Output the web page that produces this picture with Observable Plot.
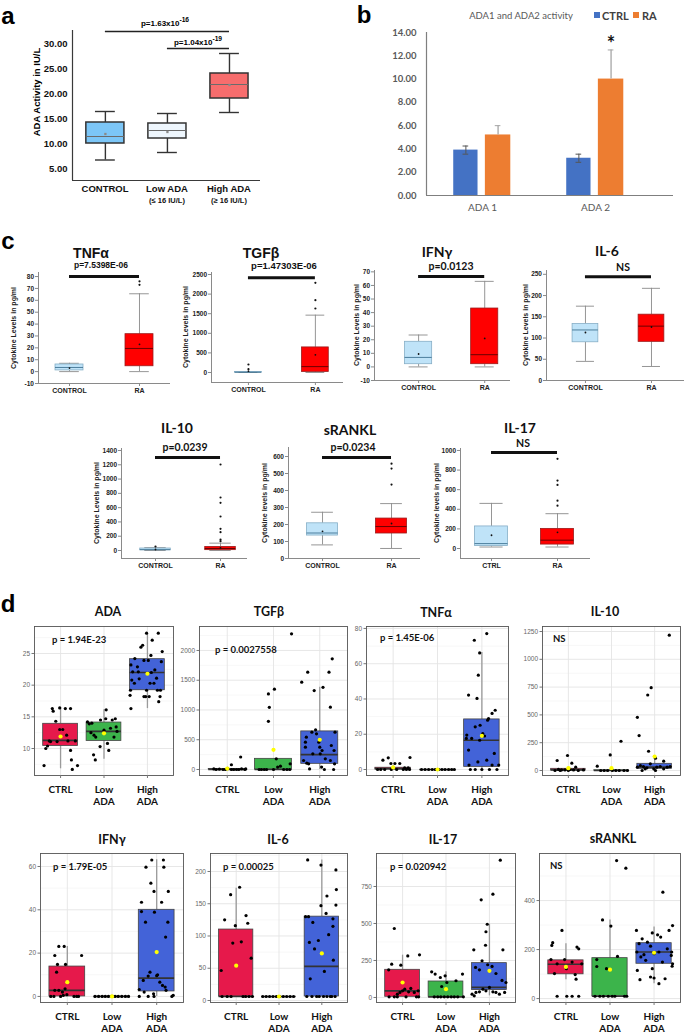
<!DOCTYPE html>
<html><head><meta charset="utf-8">
<script src="https://cdn.jsdelivr.net/npm/d3@7"></script>
<script src="https://cdn.jsdelivr.net/npm/@observablehq/plot@0.6"></script>
<style>
body{margin:0;background:#fff;}
#root{position:relative;width:685px;height:1034px;overflow:hidden;background:#fff;font-family:"Liberation Sans",Arial,sans-serif;}
</style></head><body><div id="root"></div>
<script>
// ================= DATA =================
// Panel a : ADA activity (IU/L)
const aGroups = ["CONTROL", "Low ADA", "High ADA"];
const aSubLabels = ["", "(≤ 16 IU/L)", "(≥ 16 IU/L)"];
const aWhiskLow = [6.7, 8.2, 16.2];
const aQ1 = [10.0, 11.0, 19.0];
const aMedian = [11.4, 12.6, 21.8];
const aQ3 = [14.2, 14.0, 24.0];
const aWhiskHigh = [16.4, 16.0, 28.0];
const aMean = [11.9, 12.3, 21.7];
const aTicks = [5, 10, 15, 20, 25, 30];
const aSigFrom = [1, 2], aSigTo = [3, 3], aSigY = [32.4, 29.0];
const aSigText = ["p=1.63x10<sup>-16</sup>", "p=1.04x10<sup>-19</sup>"];

// Panel b : ADA1 / ADA2 activity
const bGroups = ["ADA 1", "ADA 2"];
const bCTRL = [3.9, 3.2];
const bRA = [5.2, 10.0];
const bCTRLerr = [0.35, 0.35];
const bRAerr = [0.8, 2.5];
const bTicks = [0, 2, 4, 6, 8, 10, 12, 14];

// Panel c : cytokines CONTROL vs RA  [whiskerLow, Q1, median, Q3, whiskerHigh, mean]
const cTNF_ctrl = [0, 1, 3.5, 6, 7, 3], cTNF_ra = [0, 4.5, 19.5, 31.5, 65.5, 23];
const cTNF_out = [[2, 73], [2, 76]];
const cTGF_ctrl = [0, 0, 5, 15, 20, 34], cTGF_ra = [0, 15, 150, 640, 1463, 450];
const cTGF_out = [[1, 85], [1, 204], [2, 1633], [2, 1846], [2, 2287]];
const cIFN_ctrl = [0, 2, 7, 18.5, 23.5, 9.5], cIFN_ra = [0, 2, 9, 43, 63, 21];
const cIFN_out = [];
const cIL6_ctrl = [45, 90, 119, 133, 175, 113], cIL6_ra = [33, 91, 128, 155, 217, 126];
const cIL6_out = [];
const cIL10_ctrl = [0, 3, 12, 28, 40, 14], cIL10_ra = [0, 5, 28, 50, 103, 37];
const cIL10_out = [[1, 56], [2, 131], [2, 154], [2, 257], [2, 303], [2, 476], [2, 667], [2, 742], [2, 1204]];
const cRANKL_ctrl = [80, 135, 150, 207, 272, 160], cRANKL_ra = [59, 147, 188, 235, 323, 206];
const cRANKL_out = [[2, 435], [2, 529], [2, 558]];
const cIL17_ctrl = [15, 25, 50, 225, 460, 135], cIL17_ra = [15, 40, 85, 200, 355, 165];
const cIL17_out = [[2, 437], [2, 488], [2, 648], [2, 693], [2, 915]];

// Panel d : CTRL / Low ADA / High ADA  stats [lo, q1, med, q3, hi, mean]; points [group, jitter, value]
const dGroups = ["CTRL", "Low\nADA", "High\nADA"];
const dADA_stats = [[6.8, 10.4, 11.3, 13.9, 16.5, 11.9], [8.3, 11.2, 12.7, 14.1, 16.1, 12.4], [16.3, 19.2, 22.0, 24.1, 28.1, 21.8]];
const dADA_pts = [
 [1,-0.38,7.3],[1,-0.34,10.0],[1,-0.30,10.4],[1,-0.26,11.2],[1,-0.23,11.1],[1,-0.19,16.3],[1,-0.17,15.9],[1,-0.11,14.3],[1,-0.08,11.1],[1,-0.02,16.4],[1,-0.02,13.0],[1,0.05,13.0],[1,0.11,16.3],[1,0.14,12.1],[1,0.17,11.2],[1,0.23,16.3],[1,0.23,9.7],[1,0.25,8.2],[1,0.27,6.7],[1,0.34,11.2],[1,0.39,7.3],
 [2,-0.38,14.2],[2,-0.34,13.9],[2,-0.3,12.5],[2,-0.28,14.0],[2,-0.24,9.0],[2,-0.23,12.1],[2,-0.2,8.2],[2,-0.19,11.8],[2,-0.09,10.3],[2,-0.08,14.5],[2,0,12.9],[2,0.04,14.7],[2,0.05,16.1],[2,0.08,10.8],[2,0.11,9.7],[2,0.15,13.2],[2,0.19,14.5],[2,0.23,11.8],[2,0.26,14.7],[2,0.28,13.4],[2,0.3,12.7],
 [3,-0.38,16.3],[3,-0.4,18.4],[3,-0.39,19.2],[3,-0.36,20.8],[3,-0.38,23.2],[3,-0.34,22.1],[3,-0.3,20.3],[3,-0.29,24.2],[3,-0.23,22.9],[3,-0.21,22.1],[3,-0.19,21.0],[3,-0.15,26.0],[3,-0.11,26.3],[3,-0.08,23.9],[3,-0.08,18.2],[3,-0.04,18.2],[3,-0.02,28.2],[3,-0.02,19.2],[3,0.02,23.9],[3,0.04,18.2],[3,0.06,20.3],[3,0.08,24.7],[3,0.09,22.0],[3,0.11,27.1],[3,0.15,20.3],[3,0.17,22.4],[3,0.21,21.1],[3,0.23,19.2],[3,0.25,28.2],[3,0.26,17.4],[3,0.29,18.2],[3,0.3,19.2],[3,0.32,23.7],[3,0.34,25.3]];
const dTGF_stats = [[0, 0, 0, 10, 20, 15], [0, 0, 0, 179, 180, 330], [0, 95, 250, 640, 1380, 500]];
const dTGF_pts = [
 [1,-0.29,10],[1,-0.24,0],[1,-0.17,5],[1,-0.09,0],[1,-0.04,0],[1,0.01,20],[1,0.09,0],[1,0.14,0],[1,0.2,0],[1,0.25,0],[1,0.31,10],[1,0.38,0],[1,0.4,10],[1,0.09,80],[1,0.29,210],
 [2,-0.31,0],[2,-0.26,0],[2,-0.2,0],[2,-0.15,0],[2,-0.11,1270],[2,-0.09,1045],[2,-0.11,810],[2,0.02,1350],[2,0.06,180],[2,0,0],[2,0.09,40],[2,0.15,55],[2,0.22,0],[2,0.29,0],[2,0.35,0],[2,0.36,95],[2,0.39,2280],
 [3,-0.39,1467],[3,-0.26,1635],[3,-0.31,459],[3,-0.31,375],[3,-0.29,543],[3,-0.28,106],[3,-0.35,151],[3,-0.24,95],[3,-0.22,10],[3,-0.17,627],[3,-0.15,263],[3,-0.12,1327],[3,-0.09,666],[3,-0.07,599],[3,-0.02,459],[3,0,375],[3,0.01,263],[3,0.04,40],[3,0.05,319],[3,0.07,1380],[3,0.1,0],[3,0.12,179],[3,0.2,1635],[3,0.23,1047],[3,0.25,403],[3,0.27,1859],[3,0.31,319],[3,0.32,95],[3,0.3,0],[3,0.33,627],[3,0.23,151]];
const dTNF_stats = [[0, 0, 0.5, 1, 2, 1.2], [0, 0, 0, 0, 0, 0], [0, 1.5, 16.6, 28.4, 66.3, 19.1]];
const dTNF_pts = [
 [1,-0.23,5.3],[1,-0.11,6.6],[1,-0.05,3.4],[1,0.04,3.4],[1,0.15,3.4],[1,0.38,6.8],[1,-0.35,0],[1,-0.28,0],[1,-0.19,0],[1,-0.04,0],[1,0.08,0],[1,0.23,0],[1,0.3,0],[1,0.34,1],[1,0.26,1],[1,0.37,0],
 [2,-0.36,0],[2,-0.28,0],[2,-0.2,0],[2,-0.12,0],[2,-0.05,0],[2,0.03,0],[2,0.1,0],[2,0.17,0],[2,0.25,0],[2,0.32,0],[2,0.38,0],
 [3,-0.3,42.2],[3,-0.17,73.3],[3,-0.05,66.1],[3,-0.08,53.5],[3,-0.11,40.3],[3,0.11,77.1],[3,-0.35,17.6],[3,-0.34,19.5],[3,-0.23,17.6],[3,-0.15,24.2],[3,-0.04,25.1],[3,-0.05,16.6],[3,0.02,20.4],[3,0.06,19.0],[3,0.23,31.8],[3,0.3,33.6],[3,0.15,28.9],[3,0.13,28.0],[3,-0.3,11.0],[3,-0.29,2.5],[3,-0.09,4.3],[3,0.11,5.3],[3,0.28,9.1],[3,0.23,2.5],[3,0.38,2.5],[3,-0.26,0],[3,-0.15,0],[3,0,0],[3,0.17,0],[3,0.34,0]];
const dIL10_stats = [[0, 0, 5, 15, 30, 21], [0, 0, 0, 2, 5, 21], [0, 15, 30, 60, 110, 126]];
const dIL10_pts = [
 [1,-0.26,90],[1,-0.02,135],[1,0.08,66],[1,0.17,30],[1,-0.23,10],[1,-0.16,5],[1,-0.08,5],[1,0,0],[1,0.12,5],[1,0.23,0],[1,0.35,5],[1,-0.31,0],[1,-0.19,0],[1,0.04,10],
 [2,-0.33,39],[2,-0.03,140],[2,0.22,263],[2,-0.25,0],[2,-0.17,0],[2,-0.09,0],[2,0.02,0],[2,0.1,0],[2,0.18,0],[2,0.29,0],[2,0.37,0],
 [3,-0.4,478],[3,-0.36,314],[3,-0.16,679],[3,-0.08,745],[3,-0.14,173],[3,0.02,111],[3,0.21,84],[3,0.34,1217],[3,-0.4,30],[3,-0.33,45],[3,-0.26,36],[3,-0.18,24],[3,-0.1,60],[3,-0.02,15],[3,0.05,30],[3,0.13,36],[3,0.21,15],[3,0.29,30],[3,0.36,36],[3,-0.29,0],[3,-0.22,15],[3,0.02,0]];
const dIFN_stats = [[0, 0, 2.8, 13.8, 23.1, 6.6], [0, 0, 0, 0, 0, 0], [0, 2.3, 8.5, 40, 63.1, 20.5]];
const dIFN_pts = [
 [1,-0.28,18.9],[1,-0.22,14.8],[1,-0.24,11.2],[1,-0.19,23.1],[1,-0.07,23.1],[1,-0.04,14.8],[1,0.32,18.9],[1,-0.28,2.8],[1,-0.19,2.8],[1,-0.11,2],[1,-0.09,0.5],[1,-0.05,3.5],[1,-0.01,0.8],[1,0.15,0],[1,0.21,0],[1,-0.15,0],[1,-0.3,0],[1,-0.37,0],[1,0.25,0],
 [2,-0.38,0],[2,-0.3,0],[2,-0.22,0],[2,-0.15,0],[2,-0.08,0],[2,0,0],[2,0.07,0],[2,0.14,0],[2,0.22,0],[2,0.3,0],[2,0.37,0],
 [3,-0.34,43.5],[3,-0.34,39.2],[3,-0.24,59.7],[3,-0.13,52.3],[3,-0.11,63],[3,-0.06,48.5],[3,-0.05,38.9],[3,0.11,43.5],[3,0.15,63],[3,0.16,59.7],[3,0.26,48.5],[3,0.25,34.3],[3,0.2,27.4],[3,-0.25,34.3],[3,-0.15,11.2],[3,-0.19,9.4],[3,0.02,10],[3,0,9.6],[3,-0.3,7.4],[3,-0.39,3.2],[3,-0.39,0],[3,-0.28,2],[3,-0.19,0],[3,-0.07,1.2],[3,-0.06,0],[3,0.07,6.6],[3,0.13,5.1],[3,0.19,4.3],[3,0.21,2.8],[3,0.34,0],[3,0.37,0.5]];
const dIL6_stats = [[6.2, 6.2, 6.2, 110, 174, 54], [6.2, 6.2, 6.2, 6.2, 6.2, 6.2], [6.2, 6.2, 53, 130, 218, 73]];
const dIL6_pts = [
 [1,-0.35,46.5],[1,-0.27,125],[1,-0.13,164],[1,-0.08,89],[1,-0.02,116],[1,0.08,175.6],[1,0.12,91],[1,0.23,131.7],[1,0.27,119.8],[1,0.35,65.6],[1,-0.33,6.2],[1,-0.21,6.2],[1,-0.12,6.2],[1,0.16,6.2],[1,0.22,6.2],[1,0.3,6.2],[1,0.38,6.2],
 [2,-0.38,6.2],[2,-0.3,6.2],[2,-0.22,6.2],[2,-0.14,6.2],[2,-0.06,6.2],[2,0.02,6.2],[2,0.1,6.2],[2,0.18,6.2],[2,0.26,6.2],[2,0.34,6.2],
 [3,-0.33,218],[3,-0.02,210],[3,0.12,162],[3,-0.02,147],[3,0.1,135],[3,-0.38,130],[3,-0.31,130],[3,-0.21,121],[3,0.26,126.6],[3,0.34,172],[3,0.33,148],[3,0.26,115],[3,0.16,102],[3,0.33,202.5],[3,-0.29,90],[3,-0.17,80],[3,-0.08,93],[3,0.06,45],[3,0.27,62.5],[3,-0.27,33.6],[3,-0.35,6.2],[3,-0.23,6.2],[3,-0.12,6.2],[3,-0.06,6.2],[3,0.04,6.2],[3,0.12,6.2],[3,0.2,6.2],[3,0.23,6.2],[3,0.31,6.2]];
const dIL17_stats = [[4.5, 4.5, 45, 187, 286, 101], [4.5, 4.5, 4.5, 108, 173, 56], [11, 50, 68, 232, 495, 180]];
const dIL17_pts = [
 [1,-0.19,466],[1,-0.25,225],[1,-0.04,218],[1,0.12,281],[1,0.39,288],[1,-0.32,187],[1,-0.31,4.5],[1,-0.19,4.5],[1,-0.12,22],[1,-0.06,34],[1,0,45],[1,0.05,56],[1,0.14,38],[1,0.19,61],[1,0.27,34],[1,0.32,4.5],[1,0.37,4.5],[1,0.36,45],[1,-0.12,4.5],[1,0.08,4.5],
 [2,-0.33,173],[2,-0.25,158],[2,-0.13,135],[2,-0.02,146],[2,-0.1,74],[2,0.02,101],[2,0.23,113],[2,0.38,158],[2,-0.27,4.5],[2,-0.19,4.5],[2,-0.12,4.5],[2,-0.04,4.5],[2,0.04,4.5],[2,0.12,4.5],[2,0.19,4.5],[2,0.27,4.5],[2,0.4,4.5],
 [3,0.25,928],[3,0.08,698],[3,-0.19,660],[3,-0.08,444],[3,-0.05,495],[3,-0.09,353],[3,-0.36,322],[3,0.31,322],[3,-0.17,248],[3,-0.04,221],[3,0.06,210],[3,-0.32,203],[3,-0.23,187],[3,0.15,162],[3,0.29,115],[3,0.38,101],[3,-0.4,22],[3,-0.31,34],[3,-0.23,38],[3,-0.15,56],[3,-0.08,45],[3,0,68],[3,0.08,38],[3,0.15,34],[3,0.23,22],[3,0.35,34],[3,-0.35,11]];
const dRANKL_stats = [[77, 99, 140, 156, 224, 129], [9.5, 9.5, 9.5, 165, 321, 118], [61, 142, 190, 226, 292, 187]];
const dRANKL_pts = [
 [1,-0.34,159],[1,-0.32,217],[1,-0.3,228],[1,-0.09,278],[1,-0.2,142],[1,-0.03,159],[1,0.01,122],[1,0.14,149],[1,0.21,98],[1,0.25,210],[1,0.29,203],[1,0.23,79],[1,-0.2,9.5],[1,0.02,9.5],[1,0.14,9.5],[1,0.29,9.5],[1,-0.26,102],[1,0.36,142],
 [2,-0.17,321],[2,0.02,296],[2,0.15,563],[2,0.36,532],[2,0.17,172],[2,-0.3,159],[2,-0.3,131],[2,-0.08,122],[2,-0.34,9.5],[2,-0.23,9.5],[2,-0.15,9.5],[2,-0.04,9.5],[2,0.05,9.5],[2,0.11,9.5],[2,0.33,9.5],[2,0.38,9.5],
 [3,0.2,434],[3,-0.4,278],[3,0.42,298],[3,0.34,278],[3,-0.04,268],[3,0.08,260],[3,0.15,251],[3,-0.27,244],[3,-0.15,230],[3,-0.34,224],[3,-0.08,214],[3,0.3,203],[3,0.4,190],[3,-0.39,190],[3,-0.3,170],[3,-0.23,179],[3,-0.19,156],[3,0,183],[3,0.11,190],[3,0.19,149],[3,0.42,142],[3,0.41,132],[3,-0.38,115],[3,-0.04,122],[3,-0.08,88],[3,0,84],[3,0.11,61],[3,0.25,81],[3,-0.32,77],[3,0.39,176]];

// ================= STYLE =================
const ARIAL = '"Liberation Sans", Arial, sans-serif';
const CALI = 'Lato, "Open Sans", sans-serif';
const aFills = ["#7cc6f7", "#eef6fd", "#f76d6d"];
const dFills = ["#e6194b", "#3cb44b", "#4363d8"];
const plain = d => String(d);

const root = document.getElementById("root");
function addSvg(svg, left, top) {
  svg.style.position = "absolute"; svg.style.left = left + "px"; svg.style.top = top + "px";
  svg.style.overflow = "visible"; root.appendChild(svg);
}
function txt(html, x, y, css = {}, align = "center", rotate = 0) {
  const d = document.createElement("div");
  d.innerHTML = html;
  Object.assign(d.style, {position: "absolute", left: x + "px", top: y + "px", whiteSpace: "nowrap", lineHeight: "1.15"});
  const tx = align === "center" ? "-50%" : align === "left" ? "0" : "-100%";
  d.style.transform = `translate(${tx},-50%)` + (rotate ? ` rotate(${rotate}deg)` : "");
  Object.assign(d.style, css);
  root.appendChild(d);
}

// ================= PANEL A =================
{
  const rows = aGroups.map((g, k) => ({i: k + 1, lo: aWhiskLow[k], q1: aQ1[k], med: aMedian[k], q3: aQ3[k], hi: aWhiskHigh[k], mean: aMean[k], fill: aFills[k]}));
  const sig = aSigY.map((y, k) => ({y, from: aSigFrom[k], to: aSigTo[k]}));
  const hb = 0.307, hc = 0.16;
  const svg = Plot.plot({
    width: 340, height: 210, marginLeft: 72, marginRight: 80, marginTop: 30, marginBottom: 30,
    x: {domain: [0.47, 3.5], axis: null}, y: {domain: [2.6, 32.6], label: null},
    color: {type: "identity"},
    style: {fontFamily: ARIAL, fontSize: "9.5px", fontWeight: "bold", color: "#111", background: "none", overflow: "visible"},
    marks: [
      Plot.ruleX(rows, {x: "i", y1: "lo", y2: "q1", stroke: "#333", strokeWidth: 1.4}),
      Plot.ruleX(rows, {x: "i", y1: "q3", y2: "hi", stroke: "#333", strokeWidth: 1.4}),
      Plot.ruleY(rows, {y: "lo", x1: d => d.i - hc, x2: d => d.i + hc, stroke: "#333", strokeWidth: 1.4}),
      Plot.ruleY(rows, {y: "hi", x1: d => d.i - hc, x2: d => d.i + hc, stroke: "#333", strokeWidth: 1.4}),
      Plot.rect(rows, {x1: d => d.i - hb, x2: d => d.i + hb, y1: "q1", y2: "q3", fill: "fill", stroke: "#333", strokeWidth: 1.5}),
      Plot.ruleY(rows, {y: "med", x1: d => d.i - hb, x2: d => d.i + hb, stroke: "#6b6b6b", strokeWidth: 1}),
      Plot.dot(rows, {x: "i", y: "mean", r: 1.3, fill: "#8a8a8a", symbol: "square"}),
      Plot.ruleX([0.47], {stroke: "#3a3a3a", strokeWidth: 1.2}),
      Plot.ruleY([2.6], {stroke: "#3a3a3a", strokeWidth: 1.2}),
      Plot.ruleY(sig, {y: "y", x1: "from", x2: "to", stroke: "#222", strokeWidth: 1.6}),
      Plot.axisY(aTicks, {tickSize: 0, tickPadding: 5, tickFormat: d => d.toFixed(2), label: null})
    ]
  });
  addSvg(svg, 0, 0);
  txt("a", 8, 16, {fontFamily: ARIAL, fontWeight: "bold", fontSize: "24px"});
  txt("ADA Activity in IU/L", 37, 92, {fontFamily: ARIAL, fontWeight: "bold", fontSize: "9.5px"}, "center", -90);
  const xs = [105, 167, 229];
  aGroups.forEach((g, k) => {
    txt(g, xs[k], 189, {fontFamily: ARIAL, fontWeight: "bold", fontSize: "9.5px", color: "#111"});
    if (aSubLabels[k]) txt(aSubLabels[k], xs[k], 201, {fontFamily: ARIAL, fontWeight: "bold", fontSize: "7.5px", color: "#111"});
  });
  txt(aSigText[0], 165, 22, {fontFamily: ARIAL, fontWeight: "bold", fontSize: "8px"});
  txt(aSigText[1], 198, 41, {fontFamily: ARIAL, fontWeight: "bold", fontSize: "8px"});
}

// ================= PANEL B =================
{
  const rows = bGroups.map((g, k) => ({i: k + 1, ctrl: bCTRL[k], ra: bRA[k], ce: bCTRLerr[k], re: bRAerr[k]}));
  const cx = -0.1475, rx = 0.1375, cap = 0.025;
  const svg = Plot.plot({
    width: 345, height: 215, marginLeft: 86, marginRight: 12, marginTop: 32, marginBottom: 20,
    x: {domain: [0.504, 2.69], label: null}, y: {domain: [0, 14], label: null},
    style: {fontFamily: CALI, fontSize: "9.5px", fontWeight: "bold", color: "#595959", background: "none", overflow: "visible"},
    marks: [
      Plot.rect(rows, {x1: d => d.i - 0.255, x2: d => d.i - 0.04, y1: () => 0, y2: "ctrl", fill: "#4472c4"}),
      Plot.rect(rows, {x1: d => d.i + 0.025, x2: d => d.i + 0.25, y1: () => 0, y2: "ra", fill: "#ed7d31"}),
      Plot.ruleX(rows, {x: d => d.i + cx, y1: d => d.ctrl - d.ce, y2: d => d.ctrl + d.ce, stroke: "#555", strokeWidth: 1}),
      Plot.ruleY(rows, {y: d => d.ctrl - d.ce, x1: d => d.i + cx - cap, x2: d => d.i + cx + cap, stroke: "#555"}),
      Plot.ruleY(rows, {y: d => d.ctrl + d.ce, x1: d => d.i + cx - cap, x2: d => d.i + cx + cap, stroke: "#555"}),
      Plot.ruleX(rows, {x: d => d.i + rx, y1: "ra", y2: d => d.ra + d.re, stroke: "#a6a6a6", strokeWidth: 1.3}),
      Plot.ruleY(rows, {y: d => d.ra + d.re, x1: d => d.i + rx - cap, x2: d => d.i + rx + cap, stroke: "#a6a6a6"}),
      Plot.ruleX([0.504], {stroke: "#7f7f7f", strokeWidth: 1.2}),
      Plot.ruleY([0], {stroke: "#7f7f7f", strokeWidth: 1.2}),
      Plot.text([{x: 2 + rx, y: 13.3}], {x: "x", y: "y", text: () => "*", fontSize: 20, fontWeight: "bold", fill: "#111", dy: 4}),
      Plot.axisY(bTicks, {tickSize: 0, tickPadding: 10, tickFormat: d => d.toFixed(2), label: null}),
      Plot.axisX([1, 2], {tickSize: 0, tickPadding: 8, tickFormat: i => bGroups[i - 1], label: null, fontWeight: "normal", fontSize: 10})
    ]
  });
  addSvg(svg, 340, 0);
  txt("b", 364, 15, {fontFamily: ARIAL, fontWeight: "bold", fontSize: "24px"});
  txt("ADA1 and ADA2 activity", 521, 16, {fontFamily: CALI, fontSize: "9.5px", color: "#595959"});
  const sq = (x, c) => { const d = document.createElement("div"); Object.assign(d.style, {position: "absolute", left: x + "px", top: "12px", width: "6px", height: "6px", background: c}); root.appendChild(d); };
  sq(594, "#4472c4"); sq(633, "#ed7d31");
  txt("CTRL", 602, 16, {fontFamily: CALI, fontWeight: "bold", fontSize: "11px", color: "#404040"}, "left");
  txt("RA", 642, 16, {fontFamily: CALI, fontWeight: "bold", fontSize: "11px", color: "#404040"}, "left");
}

// ================= PANEL C =================
function makeC(o) {
  const left = o.ax - 30, top = o.yt - 3;
  const W = o.xr - left + 2, H = o.yb - top + 14;
  const boxes = [
    {i: 1, s: o.ctrl, fill: "#bfe3f8", stroke: "#86aec6", med: "#3f7392"},
    {i: 2, s: o.ra, fill: "#ff0000", stroke: "#9b1b1b", med: "#5a0000"}];
  const hb = o.bw / 2, hc = o.bw * 0.35;
  const svg = Plot.plot({
    width: W, height: H, marginLeft: 30, marginRight: 2, marginTop: 3, marginBottom: 14,
    x: {domain: o.xdom, label: null}, y: {domain: o.ydom, label: null},
    color: {type: "identity"},
    style: {fontFamily: ARIAL, fontSize: "6.5px", fontWeight: "bold", color: "#222", background: "none", overflow: "visible"},
    marks: [
      Plot.ruleX(boxes, {x: "i", y1: d => d.s[0], y2: d => d.s[1], stroke: "#8a8a8a", strokeWidth: 0.9}),
      Plot.ruleX(boxes, {x: "i", y1: d => d.s[3], y2: d => d.s[4], stroke: "#8a8a8a", strokeWidth: 0.9}),
      Plot.ruleY(boxes, {y: d => d.s[0], x1: d => d.i - hc, x2: d => d.i + hc, stroke: "#8a8a8a", strokeWidth: 0.9}),
      Plot.ruleY(boxes, {y: d => d.s[4], x1: d => d.i - hc, x2: d => d.i + hc, stroke: "#8a8a8a", strokeWidth: 0.9}),
      Plot.rect(boxes, {x1: d => d.i - hb, x2: d => d.i + hb, y1: d => d.s[1], y2: d => d.s[3], fill: "fill", stroke: "stroke", strokeWidth: 0.8}),
      Plot.ruleY(boxes, {y: d => d.s[2], x1: d => d.i - hb, x2: d => d.i + hb, stroke: "med", strokeWidth: 0.9}),
      Plot.dot(boxes, {x: "i", y: d => d.s[5], r: 0.9, fill: "#111"}),
      Plot.dot(o.out, {x: d => d[0], y: d => d[1], r: 1.1, fill: "#111"}),
      Plot.ruleX([o.xdom[0]], {stroke: "#8a8a8a", strokeWidth: 1}),
      Plot.ruleY([o.ydom[0]], {stroke: "#8a8a8a", strokeWidth: 1}),
      Plot.ruleY([o.sig], {y: d => d, x1: () => 1, x2: () => 2, stroke: "#111", strokeWidth: 3}),
      Plot.axisY(o.ticks, {tickSize: 3, tickPadding: 1.5, tickFormat: plain, label: null, stroke: "#8a8a8a"}),
      Plot.axisX([1, 2], {tickSize: 3, tickPadding: 1.5, tickFormat: i => o.xl[i - 1], label: null, stroke: "#8a8a8a", fontSize: 7})
    ]
  });
  addSvg(svg, left, top);
  txt(o.title, o.tx, o.ty, {fontFamily: o.tfont, fontWeight: "bold", fontSize: o.tsize + "px", color: "#111"});
  txt(o.p, o.px, o.py, {fontFamily: o.tfont, fontWeight: "bold", fontSize: o.psize + "px", color: "#111"});
  txt(o.ylab, o.lx, (o.yt + o.yb) / 2, {fontFamily: ARIAL, fontWeight: "bold", fontSize: "7px", color: "#222"}, "center", -90);
}
txt("c", 8, 241, {fontFamily: ARIAL, fontWeight: "bold", fontSize: "24px"});
const CL = ["CONTROL", "RA"];
makeC({ax: 38, xr: 170, yt: 272, yb: 383, ydom: [-10, 83.4], xdom: [0.557, 2.443], ticks: d3.range(-10, 81, 10), bw: 0.4, sig: 80, xl: CL,
  ctrl: cTNF_ctrl, ra: cTNF_ra, out: cTNF_out, title: "TNFα", tx: 91, ty: 253, tfont: ARIAL, tsize: 14, p: "p=7.5398E-06", px: 101, py: 266, psize: 8.5, ylab: "Cytokine Levels in pg/ml", lx: 14});
makeC({ax: 211, xr: 343, yt: 272, yb: 382, ydom: [-255, 2551], xdom: [0.448, 2.42], ticks: d3.range(0, 2501, 500), bw: 0.4, sig: 2420, xl: CL,
  ctrl: cTGF_ctrl, ra: cTGF_ra, out: cTGF_out, title: "TGFβ", tx: 261, ty: 253, tfont: ARIAL, tsize: 14, p: "p=1.47303E-06", px: 284, py: 266, psize: 9.5, ylab: "Cytokine Levels in pg/ml", lx: 186});
makeC({ax: 374, xr: 510, yt: 270, yb: 380, ydom: [-10, 71], xdom: [0.333, 2.39], ticks: d3.range(-10, 71, 10), bw: 0.41, sig: 66.6, xl: CL,
  ctrl: cIFN_ctrl, ra: cIFN_ra, out: cIFN_out, title: "IFNγ", tx: 437, ty: 252, tfont: CALI, tsize: 14, p: "p=0.0123", px: 451, py: 266, psize: 10.5, ylab: "Cytokine Levels in pg/ml", lx: 357});
makeC({ax: 546, xr: 684, yt: 270, yb: 380, ydom: [0, 259], xdom: [0.41, 2.5], ticks: d3.range(0, 251, 50), bw: 0.39, sig: 244, xl: CL,
  ctrl: cIL6_ctrl, ra: cIL6_ra, out: cIL6_out, title: "IL-6", tx: 607, ty: 251, tfont: CALI, tsize: 14, p: "NS", px: 623, py: 267, psize: 10.5, ylab: "Cytokine Levels in pg/ml", lx: 526});
makeC({ax: 121, xr: 247, yt: 448, yb: 558, ydom: [-112, 1428], xdom: [0.477, 2.415], ticks: d3.range(0, 1401, 200), bw: 0.47, sig: 1302, xl: CL,
  ctrl: cIL10_ctrl, ra: cIL10_ra, out: cIL10_out, title: "IL-10", tx: 177, ty: 428, tfont: CALI, tsize: 14, p: "p=0.0239", px: 185, py: 447, psize: 10.5, ylab: "Cytokine Levels in pg/ml", lx: 97});
makeC({ax: 288, xr: 420, yt: 447, yb: 558, ydom: [0, 653], xdom: [0.507, 2.42], ticks: d3.range(0, 601, 100), bw: 0.45, sig: 594, xl: CL,
  ctrl: cRANKL_ctrl, ra: cRANKL_ra, out: cRANKL_out, title: "sRANKL", tx: 350, ty: 430, tfont: CALI, tsize: 14, p: "p=0.0234", px: 353, py: 447, psize: 10.5, ylab: "Cytokine levels in pg/ml", lx: 265});
makeC({ax: 460, xr: 590, yt: 448, yb: 558, ydom: [-102, 1020], xdom: [0.53, 2.5], ticks: d3.range(0, 1001, 200), bw: 0.5, sig: 980, xl: ["CTRL", "RA"],
  ctrl: cIL17_ctrl, ra: cIL17_ra, out: cIL17_out, title: "IL-17", tx: 520, ty: 428, tfont: CALI, tsize: 14, p: "NS", px: 523, py: 443, psize: 10.5, ylab: "Cytokine levels in pg/ml", lx: 437});

// ================= PANEL D =================
function makeD(o) {
  const left = o.fl - 28, top = o.ft - 2;
  const W = o.fr - left + 2, H = o.fb - top + 36;
  const stats = o.stats.map((s, k) => ({i: k + 1, s, fill: dFills[k]}));
  const step = o.ticks[1] - o.ticks[0];
  const minor = [o.ticks[0] - step / 2, ...o.ticks.map(t => t + step / 2)].filter(v => v > o.ydom[0] && v < o.ydom[1]);
  const hb = 0.4;
  const svg = Plot.plot({
    width: W, height: H, marginLeft: 28, marginRight: 2, marginTop: 2, marginBottom: 36,
    x: {domain: [0.4, 3.6], label: null}, y: {domain: o.ydom, label: null},
    color: {type: "identity"},
    style: {fontFamily: CALI, fontSize: "10px", color: "#111", background: "none", overflow: "visible"},
    marks: [
      Plot.ruleY(minor, {stroke: "#f2f2f2", strokeWidth: 0.6}),
      Plot.ruleY(o.ticks, {stroke: "#e4e4e4", strokeWidth: 0.9}),
      Plot.ruleX([1, 2, 3], {stroke: "#e4e4e4", strokeWidth: 0.9}),
      Plot.ruleX(stats, {x: "i", y1: d => d.s[0], y2: d => d.s[1], stroke: "#9a9a9a", strokeWidth: 1.3}),
      Plot.ruleX(stats, {x: "i", y1: d => d.s[3], y2: d => d.s[4], stroke: "#9a9a9a", strokeWidth: 1.3}),
      Plot.rect(stats, {x1: d => d.i - hb, x2: d => d.i + hb, y1: d => d.s[1], y2: d => d.s[3], fill: "fill", stroke: "#444", strokeWidth: 0.8}),
      Plot.ruleY(stats, {y: d => d.s[2], x1: d => d.i - hb, x2: d => d.i + hb, stroke: "#333", strokeWidth: 1.7}),
      Plot.dot(o.pts, {x: d => d[0] + d[1], y: d => d[2], r: 1.6, fill: "#000"}),
      Plot.dot(stats, {x: "i", y: d => d.s[5], r: 2.1, fill: "#ffff00"}),
      Plot.frame({stroke: "#555", strokeWidth: 0.9}),
      Plot.axisY(o.ticks, {tickSize: 2.5, tickPadding: 2, tickFormat: plain, fontSize: 6.5, fontFamily: ARIAL, fill: "#666", stroke: "#777", label: null}),
      Plot.axisX([1, 2, 3], {tickSize: 3, tickPadding: 6, tickFormat: i => dGroups[i - 1], fontSize: 10, fontWeight: "bold", lineHeight: 1.2, stroke: "#777", label: null})
    ]
  });
  addSvg(svg, left, top);
  txt(o.title, o.tx, o.ty, {fontFamily: CALI, fontWeight: "bold", fontSize: "12.5px", color: "#111"});
  txt(o.p, o.px, o.py, {fontFamily: CALI, fontWeight: "bold", fontSize: "9.5px", color: "#111"}, "left");
}
txt("d", 8, 604, {fontFamily: ARIAL, fontWeight: "bold", fontSize: "24px"});
makeD({fl: 34, fr: 173, ft: 626, fb: 775, ydom: [5.74, 29.26], ticks: [10, 15, 20, 25], stats: dADA_stats, pts: dADA_pts, title: "ADA", tx: 108, ty: 612, p: "p = 1.94E-23", px: 52, py: 640});
makeD({fl: 199, fr: 347, ft: 626, fb: 775, ydom: [-101, 2403], ticks: [0, 500, 1000, 1500, 2000], stats: dTGF_stats, pts: dTGF_pts, title: "TGFβ", tx: 269, ty: 612, p: "p = 0.0027558", px: 215, py: 650});
makeD({fl: 366, fr: 508, ft: 626, fb: 775, ydom: [-3.4, 81.1], ticks: [0, 20, 40, 60, 80], stats: dTNF_stats, pts: dTNF_pts, title: "TNFα", tx: 436, ty: 613, p: "p = 1.45E-06", px: 380, py: 638});
makeD({fl: 542, fr: 680, ft: 626, fb: 775, ydom: [-45, 1295], ticks: [0, 250, 500, 750, 1000, 1250], stats: dIL10_stats, pts: dIL10_pts, title: "IL-10", tx: 605, ty: 612, p: "NS", px: 553, py: 639});
makeD({fl: 40, fr: 183, ft: 853, fb: 1002, ydom: [-2.8, 66], ticks: [0, 20, 40, 60], stats: dIFN_stats, pts: dIFN_pts, title: "IFNγ", tx: 112, ty: 840, p: "p = 1.79E-05", px: 53, py: 867});
makeD({fl: 210, fr: 347, ft: 853, fb: 1002, ydom: [-3.1, 227.9], ticks: [0, 50, 100, 150, 200], stats: dIL6_stats, pts: dIL6_pts, title: "IL-6", tx: 278, ty: 840, p: "p = 0.00025", px: 223, py: 867});
makeD({fl: 376, fr: 515, ft: 853, fb: 1002, ydom: [-34, 973], ticks: [0, 250, 500, 750], stats: dIL17_stats, pts: dIL17_pts, title: "IL-17", tx: 443, ty: 840, p: "p = 0.020942", px: 390, py: 867});
makeD({fl: 539, fr: 680, ft: 853, fb: 1002, ydom: [-16, 592], ticks: [0, 200, 400], stats: dRANKL_stats, pts: dRANKL_pts, title: "sRANKL", tx: 613, ty: 839, p: "NS", px: 550, py: 866});
</script></body></html>
